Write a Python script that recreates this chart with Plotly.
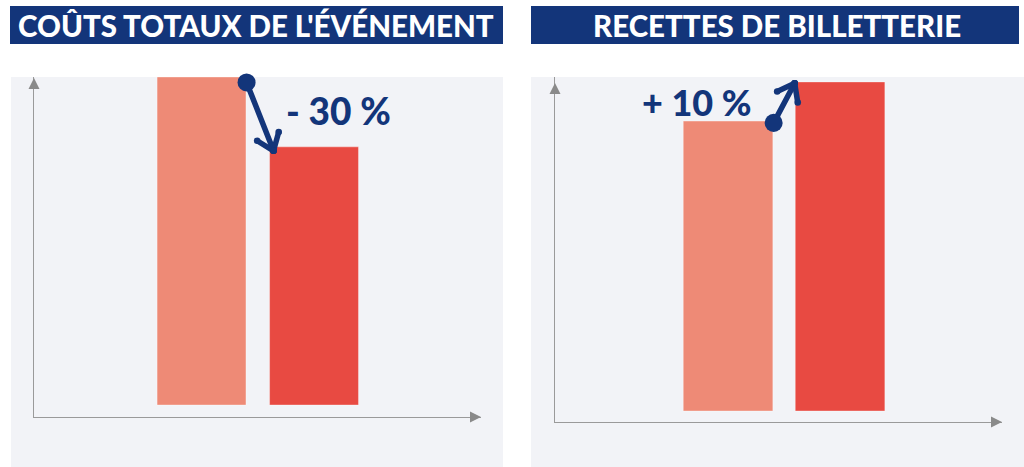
import math
import plotly.graph_objects as go

W, H = 1024, 467

# ---- data ----
categories = ["Avant", "Après"]
couts_values = [100, 78.7]          # coûts totaux (indice)
recettes_values = [88.1, 100]       # recettes de billetterie (indice)
bar_colors = ["#EE8A76", "#E84A42"]
titles = ["COÛTS TOTAUX DE L'ÉVÉNEMENT", "RECETTES DE BILLETTERIE"]
change_labels = ["- 30 %", "+ 10 %"]

NAVY = "#13357A"
PANEL = "#F2F3F7"
AXIS = "#9A9A9A"


def px_x(p):
    return p / W


def px_y(p):
    return 1 - p / H


# axis geometry (pixels) and ranges
L_XDOM, L_YDOM = (34, 481), (417, 77)
R_XDOM, R_YDOM = (555, 1002), (422, 77)
L_XR, L_YR = [-1.489, 2.484], [-3.66, 100]
R_XR, R_YR = [-1.545, 2.446], [-3.34, 101.5]

fig = go.Figure()

BW_L = 0.79
BW_R = 0.80

fig.add_trace(go.Bar(x=categories, y=couts_values, marker=dict(color=bar_colors, line=dict(color="rgba(255,255,255,0.35)", width=1)),
                     width=BW_L, xaxis="x", yaxis="y", showlegend=False, hoverinfo="skip"))
fig.add_trace(go.Bar(x=categories, y=recettes_values, marker=dict(color=bar_colors, line=dict(color="rgba(255,255,255,0.35)", width=1)),
                     width=BW_R, xaxis="x2", yaxis="y2", showlegend=False, hoverinfo="skip"))

common_ax = dict(showgrid=False, zeroline=False, showticklabels=False, ticks="",
                 showline=True, linecolor=AXIS, linewidth=1.2, fixedrange=True)

fig.update_layout(
    width=W, height=H,
    margin=dict(l=0, r=0, t=0, b=0),
    paper_bgcolor="white", plot_bgcolor="rgba(0,0,0,0)",
    xaxis=dict(domain=[px_x(L_XDOM[0]), px_x(L_XDOM[1])], range=L_XR, anchor="y", **common_ax),
    yaxis=dict(domain=[px_y(L_YDOM[0]), px_y(L_YDOM[1])], range=L_YR, anchor="x", **common_ax),
    xaxis2=dict(domain=[px_x(R_XDOM[0]), px_x(R_XDOM[1])], range=R_XR, anchor="y2", **common_ax),
    yaxis2=dict(domain=[px_y(R_YDOM[0]), px_y(R_YDOM[1])], range=R_YR, anchor="x2", **common_ax),
)

shapes = []
# panel backgrounds
shapes.append(dict(type="rect", xref="paper", yref="paper", x0=px_x(11), x1=px_x(503), y0=0, y1=px_y(77),
                   fillcolor=PANEL, line=dict(width=0), layer="below"))
shapes.append(dict(type="rect", xref="paper", yref="paper", x0=px_x(531), x1=1, y0=0, y1=px_y(77),
                   fillcolor=PANEL, line=dict(width=0), layer="below"))
# title banners
shapes.append(dict(type="rect", xref="paper", yref="paper", x0=px_x(10), x1=px_x(503), y0=px_y(44), y1=px_y(6),
                   fillcolor=NAVY, line=dict(width=0)))
shapes.append(dict(type="rect", xref="paper", yref="paper", x0=px_x(531), x1=px_x(1019), y0=px_y(44), y1=px_y(6),
                   fillcolor=NAVY, line=dict(width=0)))


def tri_up(cx, tip):
    return dict(type="path", xref="paper", yref="paper",
                path=f"M {px_x(cx-5.5)} {px_y(tip+11)} L {px_x(cx)} {px_y(tip)} L {px_x(cx+5.5)} {px_y(tip+11)} Z",
                fillcolor="#8A8A8A", line=dict(width=0))


def tri_right(tip, cy):
    return dict(type="path", xref="paper", yref="paper",
                path=f"M {px_x(tip-11)} {px_y(cy-5.5)} L {px_x(tip)} {px_y(cy)} L {px_x(tip-11)} {px_y(cy+5.5)} Z",
                fillcolor="#8A8A8A", line=dict(width=0))


shapes += [tri_up(34, 78), tri_right(481, 417), tri_up(555, 83), tri_right(1002, 422)]
fig.update_layout(shapes=shapes)

annotations = []
# banner titles
annotations.append(dict(text=titles[0], xref="paper", yref="paper", x=px_x(256), y=px_y(25.5),
                        showarrow=False, xanchor="center", yanchor="middle",
                        font=dict(family="Lato", size=29.5, color="white", weight=900)))
annotations.append(dict(text=titles[1], xref="paper", yref="paper", x=px_x(777), y=px_y(25.5),
                        showarrow=False, xanchor="center", yanchor="middle",
                        font=dict(family="Lato", size=29.5, color="white", weight=900)))


def change_arrow(xref, yref, xdom, ydom, xr, yr, tail, tip, width=5.5, arm=21, half_angle=37):
    """Arrow from tail (data coords) to tip (data coords) with open V head and round dot at tail."""
    sx = (xdom[1] - xdom[0]) / (xr[1] - xr[0])
    sy = (ydom[0] - ydom[1]) / (yr[1] - yr[0])
    # screen vector from tip back to tail (y down)
    vx = (tail[0] - tip[0]) * sx
    vy = -(tail[1] - tip[1]) * sy
    n = math.hypot(vx, vy)
    ux, uy = vx / n, vy / n
    out = []
    # shaft with a dot at the tail and a round cap at the tip
    out.append(dict(text="", xref=xref, yref=yref, axref=xref, ayref=yref,
                    x=tip[0], y=tip[1], ax=tail[0], ay=tail[1],
                    showarrow=True, arrowside="end+start", arrowhead=6, arrowsize=0.3,
                    startarrowhead=6, startarrowsize=0.82, arrowwidth=width, arrowcolor=NAVY))
    # the two arms of the V
    for sgn in (1, -1):
        a = math.radians(half_angle * sgn)
        ex = ux * math.cos(a) - uy * math.sin(a)
        ey = ux * math.sin(a) + uy * math.cos(a)
        out.append(dict(text="", xref=xref, yref=yref, x=tip[0], y=tip[1],
                        ax=ex * arm, ay=ey * arm,
                        showarrow=True, arrowside="end+start", arrowhead=6, arrowsize=0.3,
                        startarrowhead=6, startarrowsize=0.3, arrowwidth=width, arrowcolor=NAVY))
    return out


# left: tail at top-right corner of bar 1, head at top-left corner of bar 2
annotations += change_arrow("x", "y", L_XDOM, L_YDOM, L_XR, L_YR,
                            tail=(BW_L / 2, couts_values[0] - 1.2),
                            tip=(1 - BW_L / 2 + 0.035, couts_values[1] - 1.2))
annotations.append(dict(text=change_labels[0], xref="paper", yref="paper", x=px_x(338), y=px_y(110.5),
                        showarrow=False, xanchor="center", yanchor="middle",
                        font=dict(family="Lato", size=37, color=NAVY, weight=900)))

annotations += change_arrow("x2", "y2", R_XDOM, R_YDOM, R_XR, R_YR,
                            tail=(BW_R / 2, recettes_values[0] - 1.0),
                            tip=(1 - BW_R / 2 - 0.005, recettes_values[1] - 0.4))
annotations.append(dict(text=change_labels[1], xref="paper", yref="paper", x=px_x(697), y=px_y(102),
                        showarrow=False, xanchor="center", yanchor="middle",
                        font=dict(family="Lato", size=36, color=NAVY, weight=900)))

fig.update_layout(annotations=annotations)

fig.write_html("out.html", config={"displayModeBar": False},
               post_script="document.body.style.margin='0';document.body.style.overflow='hidden';")
